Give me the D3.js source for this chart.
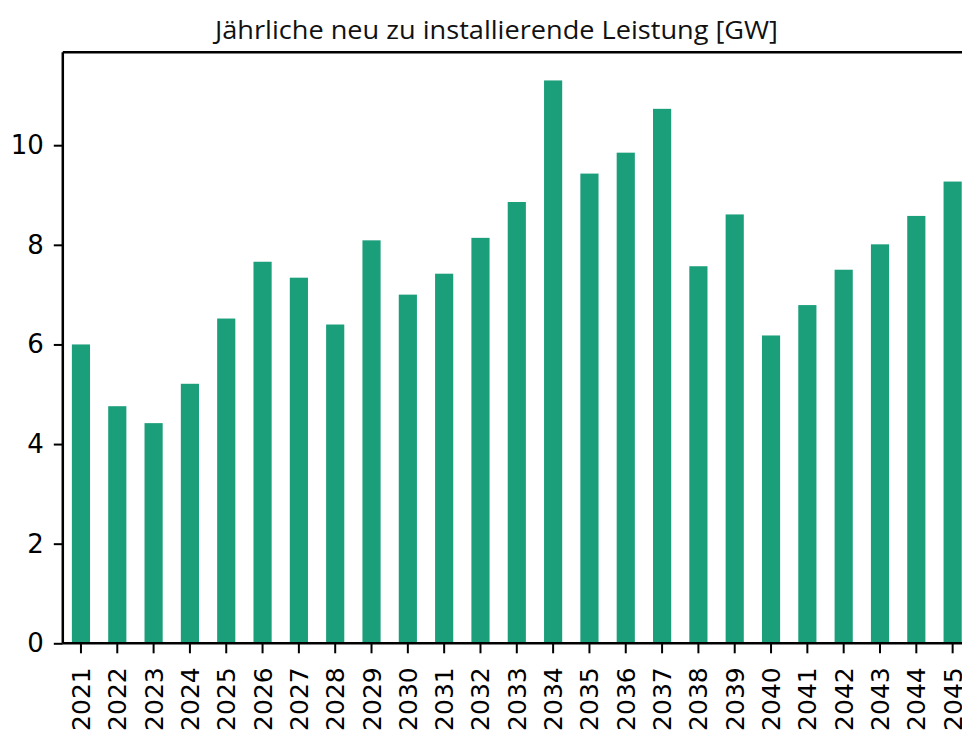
<!DOCTYPE html>
<html>
<head>
<meta charset="utf-8">
<script src="https://cdn.jsdelivr.net/npm/d3@7/dist/d3.min.js"></script>
<style>
  html, body { margin: 0; padding: 0; background: #fff; }
  svg { display: block; overflow: hidden; }
</style>
</head>
<body>
<svg id="chart" width="962" height="731"></svg>
<script>
// Annual capacity to be newly installed, in GW
const years = ["2021","2022","2023","2024","2025","2026","2027","2028","2029","2030",
               "2031","2032","2033","2034","2035","2036","2037","2038","2039","2040",
               "2041","2042","2043","2044","2045"];
const capacityGW = [6.00, 4.76, 4.42, 5.21, 6.52, 7.66, 7.34, 6.40, 8.09, 7.00,
                    7.42, 8.14, 8.86, 11.30, 9.43, 9.85, 10.73, 7.57, 8.61, 6.18,
                    6.79, 7.50, 8.01, 8.58, 9.27];
const yTicks = [0, 2, 4, 6, 8, 10];
const titleText = "Jährliche neu zu installierende Leistung [GW]";

const svg = d3.select("#chart");
const plot = { left: 62.8, right: 970.8, top: 52.3, bottom: 643.3 };

const x = d3.scaleBand()
  .domain(years)
  .range([plot.left, plot.right])
  .paddingInner(0.5)
  .paddingOuter(0.25);

const y = d3.scaleLinear()
  .domain([0, d3.max(capacityGW) * 1.05])
  .range([plot.bottom, plot.top]);

// bars
svg.append("g")
  .selectAll("rect")
  .data(years)
  .join("rect")
  .attr("x", d => x(d))
  .attr("width", x.bandwidth())
  .attr("y", (d, i) => y(capacityGW[i]))
  .attr("height", (d, i) => y(0) - y(capacityGW[i]))
  .attr("fill", "#1b9e7a");

// y axis
const yAxis = svg.append("g")
  .attr("transform", `translate(${plot.left},0)`)
  .call(d3.axisLeft(y).tickValues(yTicks).tickFormat(d3.format("d")).tickSize(9).tickPadding(10));
yAxis.select(".domain").remove();
yAxis.selectAll(".tick line").attr("stroke", "#000").attr("stroke-width", 2);
yAxis.selectAll(".tick text")
  .attr("fill", "#000")
  .style("font-family", "'DejaVu Sans', sans-serif")
  .style("font-size", "26px");

// x axis with vertical year labels
const xAxis = svg.append("g")
  .attr("transform", `translate(0,${plot.bottom})`)
  .call(d3.axisBottom(x).tickSize(10).tickPadding(0));
xAxis.select(".domain").remove();
xAxis.selectAll(".tick line").attr("stroke", "#000").attr("stroke-width", 2);
xAxis.selectAll(".tick text")
  .attr("fill", "#000")
  .style("font-family", "'DejaVu Sans', sans-serif")
  .style("font-size", "25px")
  .attr("text-anchor", "end")
  .attr("transform", "translate(0,24) rotate(-90)")
  .attr("x", 0)
  .attr("y", 0)
  .attr("dy", "0.36em");

// frame around the plot area
const spine = svg.append("g")
  .attr("stroke", "#000")
  .attr("stroke-width", 2.5)
  .attr("fill", "none");
spine.append("line").attr("x1", plot.left).attr("x2", plot.left).attr("y1", plot.top).attr("y2", plot.bottom);
spine.append("line").attr("x1", plot.left).attr("x2", plot.right).attr("y1", plot.bottom).attr("y2", plot.bottom);
spine.append("line").attr("x1", plot.left).attr("x2", plot.right).attr("y1", plot.top).attr("y2", plot.top);
spine.append("line").attr("x1", plot.right).attr("x2", plot.right).attr("y1", plot.top).attr("y2", plot.bottom);

// title
svg.append("text")
  .attr("x", 215)
  .attr("y", 38.5)
  .attr("textLength", 563)
  .attr("lengthAdjust", "spacingAndGlyphs")
  .attr("fill", "#111")
  .style("font-family", "'Open Sans', sans-serif")
  .style("font-size", "26px")
  .text(titleText);
</script>
</body>
</html>
